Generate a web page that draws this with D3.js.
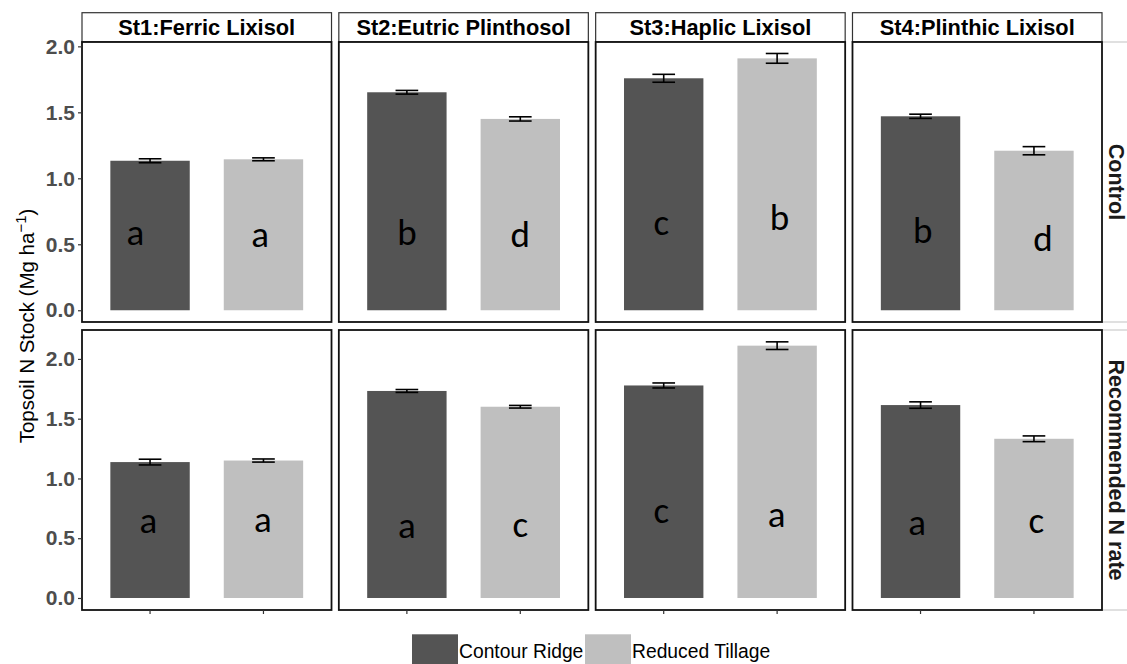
<!DOCTYPE html>
<html>
<head>
<meta charset="utf-8">
<script src="https://d3js.org/d3.v7.min.js"></script>
<style>
  body { margin: 0; padding: 0; background: #fff; }
  svg { display: block; font-family: 'Liberation Sans', Arial, sans-serif; }
</style>
</head>
<body>
<div id="chart"></div>
<script>
// soil types (columns) and N rate (rows)
const soils = ["St1:Ferric Lixisol", "St2:Eutric Plinthosol", "St3:Haplic Lixisol", "St4:Plinthic Lixisol"];
const nRates = ["Control", "Recommended N rate"];
const tillage = ["Contour Ridge", "Reduced Tillage"];

// topsoil N stock (Mg/ha), one value per soil
const controlCR = [1.133, 1.652, 1.758, 1.470];
const controlRT = [1.144, 1.450, 1.909, 1.209];
const recCR = [1.137, 1.732, 1.778, 1.614];
const recRT = [1.150, 1.600, 2.111, 1.332];

// standard errors
const controlCRse = [0.015, 0.014, 0.030, 0.016];
const controlRTse = [0.011, 0.016, 0.037, 0.031];
const recCRse = [0.024, 0.012, 0.021, 0.027];
const recRTse = [0.013, 0.011, 0.032, 0.024];

// significance letters
const controlCRlab = ["a", "b", "c", "b"];
const controlRTlab = ["a", "d", "b", "d"];
const recCRlab = ["a", "a", "c", "a"];
const recRTlab = ["a", "c", "a", "c"];

// where the letters sit (y in Mg/ha, x nudge in category steps)
const controlCRlabY = [0.495, 0.495, 0.570, 0.508];
const controlRTlabY = [0.477, 0.480, 0.608, 0.452];
const recCRlabY = [0.542, 0.500, 0.626, 0.528];
const recRTlabY = [0.550, 0.510, 0.597, 0.542];
const controlCRlabDx = [-0.13, 0, -0.02, 0.02];
const controlRTlabDx = [-0.03, 0, 0.02, 0.08];
const recCRlabDx = [-0.015, 0, -0.02, -0.03];
const recRTlabDx = [-0.006, 0, -0.005, 0.02];

const yTicks = [0, 0.5, 1.0, 1.5, 2.0];
const rowDomains = [[-0.089, 2.033], [-0.1005, 2.242]];

const fills = { "Contour Ridge": "#545454", "Reduced Tillage": "#bfbfbf" };

const rows = [
  { name: nRates[0], vals: [controlCR, controlRT], se: [controlCRse, controlRTse],
    lab: [controlCRlab, controlRTlab], labY: [controlCRlabY, controlRTlabY], labDx: [controlCRlabDx, controlRTlabDx] },
  { name: nRates[1], vals: [recCR, recRT], se: [recCRse, recRTse],
    lab: [recCRlab, recRTlab], labY: [recCRlabY, recRTlabY], labDx: [recCRlabDx, recRTlabDx] }
];

const width = 1127, height = 664;
const svg = d3.select("#chart").append("svg")
  .attr("width", width).attr("height", height);

const colX = d3.scaleBand().domain(soils).range([82, 1102]).paddingInner(0.0285);
const rowY = d3.scaleBand().domain(nRates).range([42, 610]).paddingInner(0.0278);
const pw = colX.bandwidth(), ph = rowY.bandwidth();
const xIn = d3.scalePoint().domain(tillage).range([0, pw]).padding(0.6);
const step = xIn.step();
const barW = step * 0.7, capW = step * 0.2;

// top strips
soils.forEach(s => {
  const g = svg.append("g").attr("transform", `translate(${colX(s)},12.7)`);
  g.append("rect").attr("width", pw).attr("height", 29.3)
    .attr("fill", "#fff").attr("stroke", "#333").attr("stroke-width", 1.2);
  g.append("text").attr("x", pw / 2).attr("y", 22.5)
    .attr("text-anchor", "middle").attr("font-weight", "bold")
    .attr("font-size", 21.8).attr("fill", "#000").text(s);
});

rows.forEach((r, ri) => {
  const top = rowY(r.name);
  const y = d3.scaleLinear().domain(rowDomains[ri]).range([top + ph, top]);

  // right strip
  svg.append("line").attr("x1", 1102).attr("x2", width).attr("y1", top).attr("y2", top)
    .attr("stroke", "#ccc").attr("stroke-width", 1.2);
  svg.append("line").attr("x1", 1102).attr("x2", width).attr("y1", top + ph).attr("y2", top + ph)
    .attr("stroke", "#ccc").attr("stroke-width", 1.2);
  svg.append("text")
    .attr("transform", `translate(1108.5,${top + ph / 2}) rotate(90)`)
    .attr("text-anchor", "middle").attr("font-weight", "bold")
    .attr("font-size", 21.5).attr("fill", "#1a1a1a").text(r.name);

  soils.forEach((s, si) => {
    const g = svg.append("g").attr("transform", `translate(${colX(s)},0)`);
    g.append("rect").attr("x", 0).attr("y", top).attr("width", pw).attr("height", ph)
      .attr("fill", "#fff");

    tillage.forEach((t, ti) => {
      const v = r.vals[ti][si], e = r.se[ti][si];
      const cx = xIn(t);
      g.append("rect")
        .attr("x", cx - barW / 2).attr("width", barW)
        .attr("y", y(v)).attr("height", y(0) - y(v))
        .attr("fill", fills[t]);
      // error bar
      const eb = g.append("g").attr("stroke", "#000").attr("stroke-width", 1.6);
      eb.append("line").attr("x1", cx).attr("x2", cx).attr("y1", y(v - e)).attr("y2", y(v + e));
      eb.append("line").attr("x1", cx - capW / 2).attr("x2", cx + capW / 2).attr("y1", y(v + e)).attr("y2", y(v + e));
      eb.append("line").attr("x1", cx - capW / 2).attr("x2", cx + capW / 2).attr("y1", y(v - e)).attr("y2", y(v - e));
      // letter
      g.append("text")
        .attr("x", cx + r.labDx[ti][si] * step)
        .attr("y", y(r.labY[ti][si]))
        .attr("text-anchor", "middle")
        .attr("font-family", "Carlito, 'Open Sans', 'Noto Sans', sans-serif")
        .attr("font-size", 37).attr("fill", "#000")
        .text(r.lab[ti][si]);
    });

    g.append("rect").attr("x", 0).attr("y", top).attr("width", pw).attr("height", ph)
      .attr("fill", "none").attr("stroke", "#111").attr("stroke-width", 1.8);

    // x ticks on the bottom row only
    if (ri === rows.length - 1) {
      tillage.forEach(t => {
        g.append("line").attr("x1", xIn(t)).attr("x2", xIn(t))
          .attr("y1", top + ph).attr("y2", top + ph + 4)
          .attr("stroke", "#333").attr("stroke-width", 1.2);
      });
    }
  });

  // y axis
  const ax = svg.append("g").attr("transform", `translate(${colX(soils[0])},0)`)
    .call(d3.axisLeft(y).tickValues(yTicks).tickFormat(d3.format(".1f")).tickSize(4).tickPadding(3));
  ax.select(".domain").remove();
  ax.selectAll(".tick line").attr("stroke", "#333").attr("stroke-width", 1.2);
  ax.selectAll(".tick text").attr("font-size", 21).attr("font-weight", "bold")
    .attr("fill", "#4d4d4d").attr("font-family", "'Liberation Sans', Arial, sans-serif");
});

// y axis title
const yt = svg.append("text")
  .attr("transform", `translate(34,${(42 + 610) / 2}) rotate(-90)`)
  .attr("text-anchor", "middle").attr("font-size", 20.5).attr("fill", "#000");
yt.append("tspan").text("Topsoil N Stock (Mg ha");
yt.append("tspan").attr("dy", -8).attr("font-size", 15).text("\u22121");
yt.append("tspan").attr("dy", 8).text(")");

// legend
const legX = [412, 585];
tillage.forEach((t, i) => {
  svg.append("rect").attr("x", legX[i]).attr("y", 634.3).attr("width", 46).attr("height", 32)
    .attr("fill", fills[t]);
  svg.append("text").attr("x", legX[i] + 47).attr("y", 658.3)
    .attr("font-size", 19.3).attr("fill", "#000").text(t);
});
</script>
</body>
</html>
